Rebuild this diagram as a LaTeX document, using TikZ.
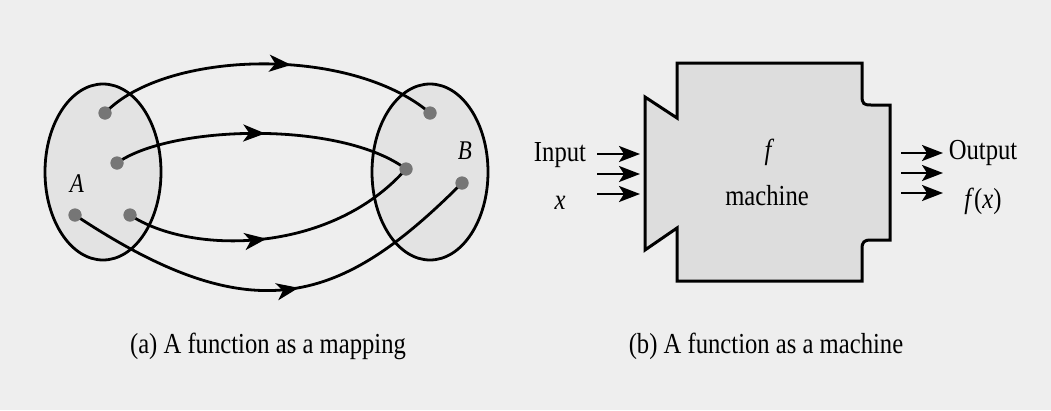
\documentclass[tikz,border=0pt]{standalone}
\usepackage{fontspec}
\setmainfont[FakeStretch=0.85]{Liberation Serif}
\usetikzlibrary{decorations.markings,arrows.meta,shapes.geometric}
\definecolor{bgc}{HTML}{EEEEEE}
\definecolor{setfill}{HTML}{E3E3E3}
\definecolor{machfill}{HTML}{DDDDDD}
\definecolor{dotc}{HTML}{767676}
\tikzset{
  setell/.style={draw=black, line width=2.8pt, fill=setfill, ellipse, minimum width=116pt, minimum height=176pt, inner sep=0pt},
  elem/.style={circle, fill=dotc, minimum size=13pt, inner sep=0pt},
  maplink/.style={line width=2.8pt, postaction={decorate}, decoration={markings, mark=at position #1 with {\arrow{Stealth[length=22pt,width=17pt,inset=6pt]}}}},
  maplink/.default=0.55,
  flow/.style={line width=2.6pt, -{Stealth[length=21pt,width=16pt,inset=5pt]}},
  lbl/.style={font=\fontsize{29pt}{32pt}\selectfont, inner sep=0pt},
  setlbl/.style={font=\fontsize{27pt}{30pt}\selectfont\itshape, inner sep=0pt}
}
\begin{document}
\begin{tikzpicture}[x=1pt,y=-1pt]
\fill[bgc] (0,0) rectangle (1051,410);
\useasboundingbox (0,0) rectangle (1051,410);

% (a) mapping
\node[setell] (SA) at (103,172) {};
\node[setell] (SB) at (430,172) {};
\node[setlbl] (la) at (77,184) {A};
\node[setlbl] (lb) at (465,151) {B};

\node[elem] (a1) at (105,113) {};
\node[elem] (a2) at (117,163) {};
\node[elem] (a3) at (130,215) {};
\node[elem] (a4) at (75,215) {};
\node[elem] (b1) at (430,113) {};
\node[elem] (b2) at (406,169) {};
\node[elem] (b3) at (462,183) {};

\draw[maplink=0.57] (a1.center) .. controls (165,50) and (350,45) .. (b1.center);
\draw[maplink=0.51] (a2.center) .. controls (170,125) and (340,120) .. (b2.center);
\draw[maplink=0.47] (a3.center) .. controls (190,255) and (330,255) .. (b2.center);
\draw[maplink=0.55] (a4.center) .. controls (255,335) and (342,303) .. (b3.center);

\node[elem] at (a1) {};
\node[elem] at (a2) {};
\node[elem] at (a3) {};
\node[elem] at (a4) {};
\node[elem] at (b1) {};
\node[elem] at (b2) {};
\node[elem] at (b3) {};

\node[lbl] (capa) at (268,346) {(a) A function as a mapping};

% (b) machine
\draw[line width=3pt, fill=machfill, line join=miter]
  (677,63) -- (862,63) -- (862,96) .. controls (862,104) and (864,105) .. (871,105)
  -- (890,105) -- (890,240) -- (871,240) .. controls (864,240) and (862,242) .. (862,249)
  -- (862,281) -- (677,281) -- (677,228) -- (645,250) -- (645,97) -- (677,118) -- cycle;
\node[lbl] (mf) at (768,152) {\itshape f};
\node[lbl] (mm) at (767,196) {machine};

\node[lbl] (inp) at (560,155) {Input};
\node[lbl] (inx) at (560,203) {\itshape x};
\node[lbl] (outp) at (983,153) {Output};
\node[lbl] (outf) at (983,201) {\itshape f\/\upshape(\itshape x\upshape)};

\coordinate (i1s) at (597,154); \coordinate (i1e) at (640,154);
\coordinate (i2s) at (597,174); \coordinate (i2e) at (640,174);
\coordinate (i3s) at (597,194); \coordinate (i3e) at (640,194);
\coordinate (o1s) at (901,153); \coordinate (o1e) at (943,153);
\coordinate (o2s) at (901,173); \coordinate (o2e) at (943,173);
\coordinate (o3s) at (901,193); \coordinate (o3e) at (943,193);
\draw[flow] (i1s) -- (i1e);
\draw[flow] (i2s) -- (i2e);
\draw[flow] (i3s) -- (i3e);
\draw[flow] (o1s) -- (o1e);
\draw[flow] (o2s) -- (o2e);
\draw[flow] (o3s) -- (o3e);

\node[lbl] (capb) at (766,346) {(b) A function as a machine};
\end{tikzpicture}
\end{document}
